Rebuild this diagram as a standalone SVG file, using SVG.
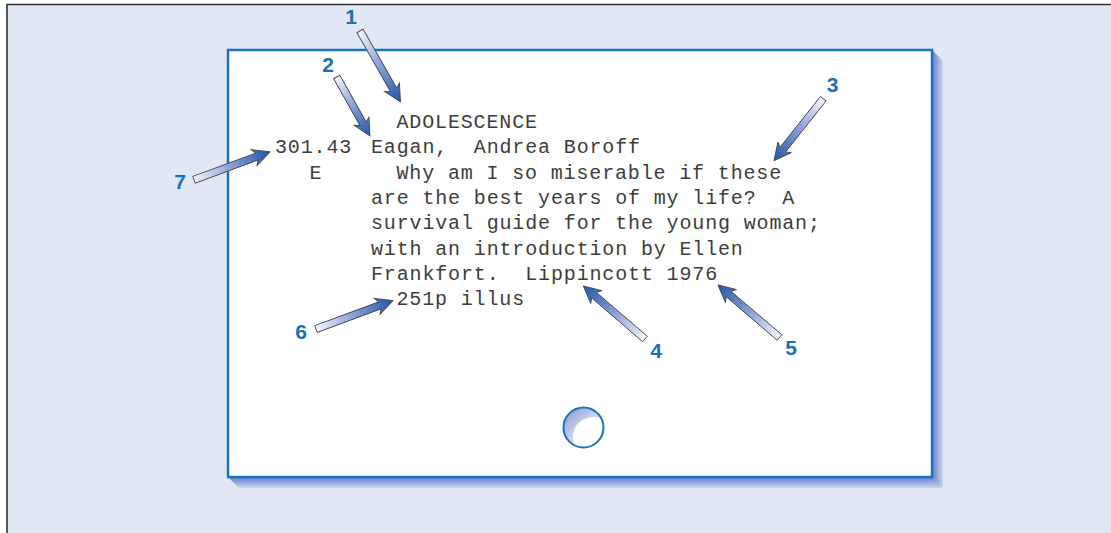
<svg xmlns="http://www.w3.org/2000/svg" width="1111" height="533" viewBox="0 0 1111 533">
<style>
.bg{fill:#e1e7f3}
.frame{fill:none;stroke:#333;stroke-width:1.6}
.card{fill:#fff;stroke:#1b74ba;stroke-width:2.5}
.txt{font-family:"Liberation Mono","Courier New",monospace;font-size:20px;letter-spacing:0.85px;fill:#3d3d3d;white-space:pre}
.lbl{font-family:"Liberation Sans",Arial,sans-serif;font-size:21px;font-weight:bold;fill:#1b6fb6;text-anchor:middle}
.arr{fill:url(#ag);stroke:#454550;stroke-width:0.9;stroke-linejoin:miter}
</style>
<defs>
<linearGradient id="ag" x1="0" y1="0" x2="1" y2="0">
<stop offset="0" stop-color="#f4f6fc"/>
<stop offset="0.45" stop-color="#92a5da"/>
<stop offset="1" stop-color="#1f57a8"/>
</linearGradient>
<linearGradient id="shR" x1="0" y1="0" x2="1" y2="0">
<stop offset="0" stop-color="#5f7cc9"/>
<stop offset="1" stop-color="#cdd6ee"/>
</linearGradient>
<linearGradient id="shB" x1="0" y1="0" x2="0" y2="1">
<stop offset="0" stop-color="#5f7cc9"/>
<stop offset="1" stop-color="#cdd6ee"/>
</linearGradient>
<linearGradient id="hole" x1="0" y1="0" x2="1" y2="1">
<stop offset="0" stop-color="#8595d2"/>
<stop offset="0.55" stop-color="#d5dbf2"/>
<stop offset="1" stop-color="#ffffff"/>
</linearGradient>
<clipPath id="hc"><circle cx="583.5" cy="427.5" r="20"/></clipPath>
</defs>
<rect class="bg" x="7" y="4.5" width="1110" height="535"/>
<path class="frame" d="M7,540 V4.5 H1115"/>
<g id="card">
<polygon points="932,50 943,61 943,488 932,477" fill="url(#shR)"/>
<polygon points="228,477 932,477 943,488 239,488" fill="url(#shB)"/>
<rect class="card" x="228" y="50" width="704" height="427"/>
</g>
<g id="hole-punch">
<g clip-path="url(#hc)">
<circle cx="583.5" cy="427.5" r="20" fill="url(#hole)"/>
<circle cx="593" cy="437" r="20" fill="#fff"/>
</g>
<circle cx="583.5" cy="427.5" r="20" fill="none" stroke="#1b74ba" stroke-width="2"/>
</g>
<g id="card-text" xml:space="preserve">
<text class="txt" x="396.5" y="128">ADOLESCENCE</text>
<text class="txt" x="275" y="153.3">301.43</text>
<text class="txt" x="371" y="153.3">Eagan,  Andrea Boroff</text>
<text class="txt" x="309.5" y="178.6">E</text>
<text class="txt" x="396.5" y="178.6">Why am I so miserable if these</text>
<text class="txt" x="371" y="203.9">are the best years of my life?  A</text>
<text class="txt" x="371" y="229.2">survival guide for the young woman;</text>
<text class="txt" x="371" y="254.5">with an introduction by Ellen</text>
<text class="txt" x="371" y="279.8">Frankfort.  Lippincott 1976</text>
<text class="txt" x="396.5" y="305.1">251p illus</text>
</g>
<g id="connectors">
<path class="arr" transform="translate(360,31) rotate(60.3)" d="M0,-3.6 L67.7,-3.6 L64.7,-8.5 L81.7,0 L64.7,8.5 L67.7,3.6 L0,3.6 Z"/>
<path class="arr" transform="translate(336.7,77) rotate(60.6)" d="M0,-3.6 L53.7,-3.6 L50.7,-8.5 L67.7,0 L50.7,8.5 L53.7,3.6 L0,3.6 Z"/>
<path class="arr" transform="translate(823.3,98.7) rotate(128.5)" d="M0,-3.6 L65.2,-3.6 L62.2,-8.5 L79.2,0 L62.2,8.5 L65.2,3.6 L0,3.6 Z"/>
<path class="arr" transform="translate(194,179.7) rotate(-20.2)" d="M0,-3.6 L67,-3.6 L64,-8.5 L81,0 L64,8.5 L67,3.6 L0,3.6 Z"/>
<path class="arr" transform="translate(316,329) rotate(-20.3)" d="M0,-3.6 L68.1,-3.6 L65.1,-8.5 L82.1,0 L65.1,8.5 L68.1,3.6 L0,3.6 Z"/>
<path class="arr" transform="translate(645,339) rotate(-139.3)" d="M0,-3.6 L67.3,-3.6 L64.3,-8.5 L81.3,0 L64.3,8.5 L67.3,3.6 L0,3.6 Z"/>
<path class="arr" transform="translate(779.5,337.5) rotate(-139.5)" d="M0,-3.6 L66.9,-3.6 L63.9,-8.5 L80.9,0 L63.9,8.5 L66.9,3.6 L0,3.6 Z"/>
</g>
<g id="labels">
<g id="n1"><text class="lbl" x="351" y="24">1</text></g>
<g id="n2"><text class="lbl" x="328" y="71.7">2</text></g>
<g id="n3"><text class="lbl" x="832.5" y="91.7">3</text></g>
<g id="n4"><text class="lbl" x="656" y="358">4</text></g>
<g id="n5"><text class="lbl" x="791" y="355">5</text></g>
<g id="n6"><text class="lbl" x="301" y="339">6</text></g>
<g id="n7"><text class="lbl" x="180" y="189">7</text></g>
</g>
</svg>
